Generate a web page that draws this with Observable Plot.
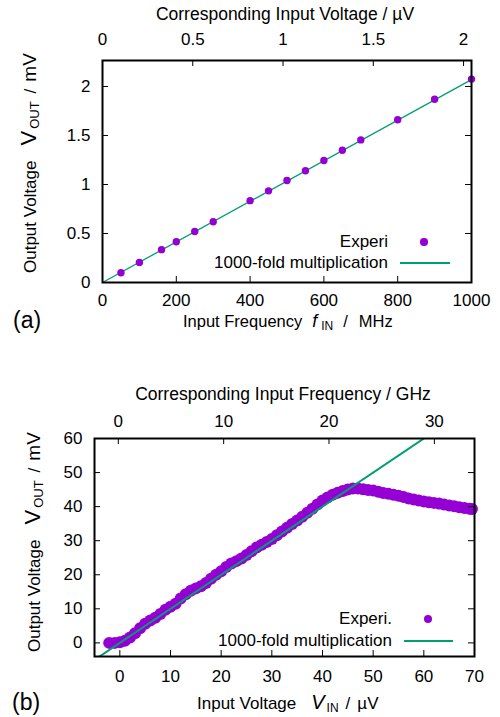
<!DOCTYPE html>
<html><head><meta charset="utf-8">
<script src="https://cdn.jsdelivr.net/npm/d3@7"></script>
<script src="https://cdn.jsdelivr.net/npm/@observablehq/plot@0.6"></script>
<style>
body{margin:0;background:#fff;}
#root{position:relative;width:500px;height:717px;overflow:hidden;font-family:"Liberation Sans",Arial,sans-serif;color:#000;}
.abs{position:absolute;white-space:nowrap;}
#root svg{position:absolute;left:0;}
.sb{position:relative;top:3px;}
.big{display:inline-block;height:12px;line-height:12px;}
</style></head><body><div id="root"></div>
<script>
// ---------- Panel (a) data ----------
const freqA = [50,100,160,200,250,300,400,450,500,550,600,650,700,800,900,1000];
const voutA = [0.10,0.205,0.335,0.415,0.52,0.62,0.835,0.935,1.04,1.14,1.245,1.35,1.455,1.66,1.87,2.075];
const fitAx = [0, 1000];
const fitAy = [0, 2.07];
const xTicksA = [0,200,400,600,800,1000];
const yTicksA = [0,0.5,1,1.5,2];
const topTicksA = [0,0.5,1,1.5,2];

// ---------- Panel (b) data ----------
const vinB = [-2.1,-1,0,1,2,3,4,5,6,7,8,9,10,11,12,13,14,15,16,17,18,19,20,21,22,23,24,25,26,27,28,29,30,31,32,33,34,35,36,37,38,39,40,41,42,43,44,45,46,47,48,49,50,51,52,53,54,55,56,57,58,59,60,61,62,63,64,65,66,67,68,69,69.5];
const voutB = [0,0,0.2,0.6,1.6,2.8,4.3,5.6,6.6,7.4,8.5,9.7,10.6,11.5,13.0,14.3,15.3,16.0,16.6,17.6,18.8,20.0,21.0,22.3,23.3,24.0,24.8,25.8,26.9,28.0,28.8,29.6,30.5,31.6,32.7,33.8,34.9,35.9,37.0,38.2,39.4,40.6,41.8,42.7,43.5,44.1,44.6,45.0,45.3,45.3,45.1,44.9,44.7,44.4,44.0,43.8,43.5,43.2,42.8,42.4,42.1,41.8,41.5,41.3,41.1,40.9,40.6,40.3,40.1,39.8,39.6,39.4,39.3];
const fitBx = [-5, 70];
const fitBy = [-5, 70];
const xTicksB = [0,10,20,30,40,50,60,70];
const yTicksB = [0,10,20,30,40,50,60];
const topTicksB = [0,10,20,30];

const PURPLE = "#9400d3", GREEN = "#009e73";
const FONT = '"Liberation Sans", Arial, sans-serif';
const root = document.getElementById("root");

const dataA = freqA.map((f,i)=>({f, v: voutA[i]}));
const fitA = fitAx.map((x,i)=>({x, y: fitAy[i]}));
const dataB = vinB.map((x,i)=>({x, y: voutB[i]}));
const fitB = fitBx.map((x,i)=>({x, y: fitBy[i]}));

function place(svg, top){ svg.style.top = top+"px"; root.appendChild(svg); }
const baseStyle = {fontFamily: FONT, fontSize: "17px", background: "transparent", color: "#000", overflow: "visible"};

// ---------- Panel (a) ----------
const A = {h:358, ml:102, mr:29, mt:60, mb:76};
const pwA = 500 - A.ml - A.mr, phA = A.h - A.mt - A.mb;
const dimsA = {width:500, height:A.h, marginLeft:A.ml, marginRight:A.mr, marginTop:A.mt, marginBottom:A.mb, style: baseStyle};
place(Plot.plot({...dimsA,
  x:{domain:[0,1000]}, y:{domain:[0,2.265]},
  marks:[
    Plot.line(fitA, {x:"x", y:"y", stroke:GREEN, strokeWidth:1.3}),
    Plot.dot(dataA, {x:"f", y:"v", r:3.7, fill:PURPLE}),
    Plot.tickX(xTicksA, {x:d=>d, insetTop: phA-6, stroke:"#000"}),
    Plot.tickY(yTicksA, {y:d=>d, insetRight: pwA-6, stroke:"#000"}),
    Plot.tickY(yTicksA, {y:d=>d, insetLeft: pwA-6, stroke:"#000"}),
    Plot.axisX(xTicksA, {anchor:"bottom", tickSize:0, tickPadding:11, fontSize:17, label:null, tickFormat:d=>String(d)}),
    Plot.axisY(yTicksA, {anchor:"left", tickSize:0, tickPadding:12, fontSize:17, label:null, tickFormat:d=>String(d)}),
    Plot.frame({stroke:"#000", strokeWidth:2})
  ]}), 0);
place(Plot.plot({...dimsA,
  x:{domain:[0,2.044]},
  marks:[
    Plot.tickX(topTicksA, {x:d=>d, insetBottom: phA-6, stroke:"#000"}),
    Plot.axisX(topTicksA, {anchor:"top", tickSize:0, tickPadding:16, fontSize:17, label:null, tickFormat:d=>String(d)})
  ]}), 0);

// ---------- Panel (b) ----------
const B = {h:359, ml:94, mr:26, mt:80, mb:61};
const pwB = 500 - B.ml - B.mr, phB = B.h - B.mt - B.mb;
const dimsB = {width:500, height:B.h, marginLeft:B.ml, marginRight:B.mr, marginTop:B.mt, marginBottom:B.mb, style: baseStyle};
place(Plot.plot({...dimsB,
  x:{domain:[-5,70]}, y:{domain:[-4,60]},
  marks:[
    Plot.dot(dataB, {x:"x", y:"y", r:6, fill:PURPLE}),
    Plot.line(fitB, {x:"x", y:"y", stroke:GREEN, strokeWidth:2, clip:true}),
    Plot.tickX(xTicksB, {x:d=>d, insetTop: phB-6, stroke:"#000"}),
    Plot.tickY(yTicksB, {y:d=>d, insetRight: pwB-6, stroke:"#000"}),
    Plot.tickY(yTicksB, {y:d=>d, insetLeft: pwB-6, stroke:"#000"}),
    Plot.axisX(xTicksB, {anchor:"bottom", tickSize:0, tickPadding:13, fontSize:17, label:null, tickFormat:d=>String(d)}),
    Plot.axisY(yTicksB, {anchor:"left", tickSize:0, tickPadding:12, fontSize:17, label:null, tickFormat:d=>String(d)}),
    Plot.frame({stroke:"#000", strokeWidth:2})
  ]}), 358);
place(Plot.plot({...dimsB,
  x:{domain:[-2.26,33.81]},
  marks:[
    Plot.tickX(topTicksB, {x:d=>d, insetBottom: phB-6, stroke:"#000"}),
    Plot.axisX(topTicksB, {anchor:"top", tickSize:0, tickPadding:12, fontSize:17, label:null, tickFormat:d=>String(d)})
  ]}), 358);

// ---------- text ----------
function txt(html, x, y, {anchor="start", size=17, rot=false, lh=null}={}) {
  const d = document.createElement("div");
  const L = lh ?? size;
  d.className = "abs"; d.innerHTML = html;
  d.style.fontSize = size+"px"; d.style.lineHeight = L+"px";
  if (rot) {
    d.style.left = (x - L/2)+"px"; d.style.top = y+"px";
    d.style.transformOrigin = "0 0"; d.style.transform = "rotate(-90deg)";
  } else {
    d.style.left = x+"px"; d.style.top = (y - L/2)+"px";
    if (anchor==="middle") d.style.transform = "translateX(-50%)";
    if (anchor==="end") d.style.transform = "translateX(-100%)";
  }
  root.appendChild(d);
  return d;
}
function swatchDot(cx, cy, r){
  const d = document.createElement("div"); d.className="abs";
  Object.assign(d.style,{left:(cx-r)+"px",top:(cy-r)+"px",width:2*r+"px",height:2*r+"px",borderRadius:"50%",background:PURPLE});
  root.appendChild(d);
}
function swatchLine(x1, x2, y, w){
  const d = document.createElement("div"); d.className="abs";
  Object.assign(d.style,{left:x1+"px",top:(y-w/2)+"px",width:(x2-x1)+"px",height:w+"px",background:GREEN});
  root.appendChild(d);
}
const sp = w => `<span style="display:inline-block;width:${w}px"></span>`;
const yTitle = 'Output Voltage' + sp(15) + '<span style="font-size:22px">V</span>' + sp(2) +
  '<span class="sb" style="font-size:13px">OUT</span>' + sp(8) + '/' + sp(7) + '<span style="font-size:19px">mV</span>';

// panel (a)
txt("Corresponding Input Voltage / µV", 285, 14, {anchor:"middle", size:17.5, lh:14});
txt(yTitle, 29, 273, {rot:true, size:17, lh:14});
txt('Input Frequency' + sp(10) + '<i class="big" style="font-size:18px">f</i>' + sp(4) +
    '<span class="sb" style="font-size:12px">IN</span>' + sp(10) + '/' + sp(11) + 'MHz', 183, 321, {size:16.5, lh:12});
txt("(a)", 13, 320, {size:23, lh:20});
txt("Experi", 388, 242, {anchor:"end", lh:14});
swatchDot(424, 242, 3.7);
txt("1000-fold multiplication", 388, 263, {anchor:"end", lh:14});
swatchLine(400, 450, 263, 1.3);

// panel (b)
txt("Corresponding Input Frequency / GHz", 283, 394, {anchor:"middle", size:17.5, lh:14});
txt(yTitle, 33, 652, {rot:true, size:17, lh:14});
txt('Input Voltage' + sp(15) + '<i class="big" style="font-size:20px">V</i>' + sp(2) +
    '<span class="sb" style="font-size:12px">IN</span>' + sp(7) + '/' + sp(7) + 'µV', 197, 702, {size:17, lh:12});
txt("(b)", 12, 702, {size:23, lh:20});
txt("Experi.", 392, 619, {anchor:"end", lh:14});
swatchDot(428, 619, 4.3);
txt("1000-fold multiplication", 392, 641, {anchor:"end", lh:14});
swatchLine(404, 453, 641, 2);
</script></body></html>
